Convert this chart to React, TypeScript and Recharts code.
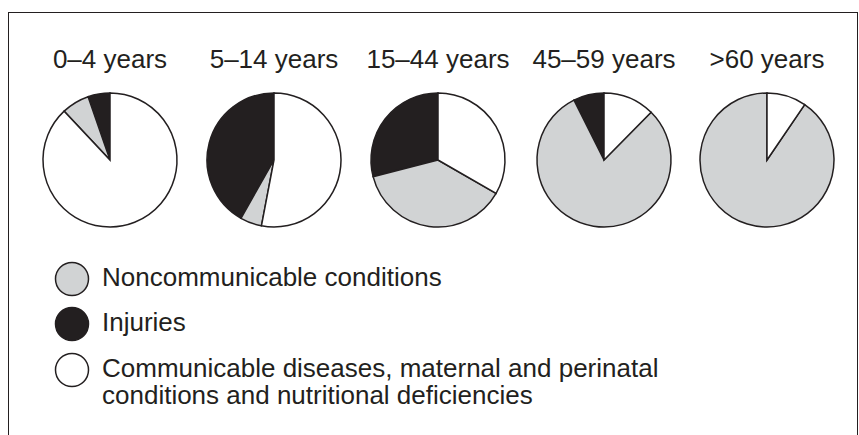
import { Cell, Legend, Pie, PieChart } from "recharts";

const ageGroups = ["0–4 years", "5–14 years", "15–44 years", "45–59 years", ">60 years"];
const categories = [
  "Injuries",
  "Noncommunicable conditions",
  "Communicable diseases, maternal and perinatal conditions and nutritional deficiencies"
];
const injuries = [5.3, 41.8, 29.0, 7.4, 0];
const noncommunicable = [6.7, 5.2, 37.7, 80.2, 90.5];
const communicable = [88.0, 53.0, 33.3, 12.4, 9.5];

const legendOrder = [1, 0, 2];
const legendLines = [
  ["Noncommunicable conditions"],
  ["Injuries"],
  ["Communicable diseases, maternal and perinatal", "conditions and nutritional deficiencies"]
];

const INK = "#231f20";
const colors = [INK, "#d1d3d4", "#ffffff"];
const centersX = [110, 274, 438, 604, 767];
const FONT = '"Liberation Sans", Arial, Helvetica, sans-serif';

function LegendBox() {
  const rowTops = [261.5, 307, 352.5];
  return (
    <div style={{ position: "relative", width: 700, height: 170, fontFamily: FONT, color: INK }}>
      {legendOrder.map((ci, i) => (
        <div key={categories[ci]}>
          <svg
            width={38}
            height={38}
            style={{ position: "absolute", left: 53, top: rowTops[i] - 2 - 248 }}
          >
            <circle cx={19} cy={19} r={16.5} fill={colors[ci]} stroke={INK} strokeWidth={1.5} />
          </svg>
          <div
            style={{
              position: "absolute",
              left: 102,
              top: rowTops[i] + 2 - 248,
              fontSize: 26,
              lineHeight: "27px",
              whiteSpace: "nowrap",
              textAlign: "left"
            }}
          >
            {legendLines[i].map((line) => (
              <div key={line}>{line}</div>
            ))}
          </div>
        </div>
      ))}
    </div>
  );
}

export default function App() {
  return (
    <div
      style={{
        position: "absolute",
        left: 0,
        top: 0,
        width: 859,
        height: 435,
        overflow: "hidden",
        background: "#fff",
        fontFamily: FONT
      }}
    >
      <div
        style={{
          position: "absolute",
          left: 8,
          top: 12,
          width: 848,
          height: 500,
          borderTop: `1.5px solid ${INK}`,
          borderLeft: `1.5px solid ${INK}`,
          borderRight: `1.5px solid ${INK}`
        }}
      />
      {ageGroups.map((g, i) => (
        <div
          key={g}
          style={{
            position: "absolute",
            left: centersX[i] - 90,
            top: 46,
            width: 180,
            textAlign: "center",
            fontSize: 26,
            lineHeight: "26px",
            color: INK,
            whiteSpace: "nowrap"
          }}
        >
          {g}
        </div>
      ))}
      <PieChart
        width={859}
        height={435}
        margin={{ top: 0, right: 0, bottom: 0, left: 0 }}
        style={{ position: "absolute", left: 0, top: 0 }}
      >
        {ageGroups.map((g, i) => {
          const data = [
            { name: categories[0], value: injuries[i] },
            { name: categories[1], value: noncommunicable[i] },
            { name: categories[2], value: communicable[i] }
          ].filter((d) => d.value > 0);
          return (
            <Pie
              key={g}
              data={data}
              dataKey="value"
              nameKey="name"
              cx={centersX[i]}
              cy={160}
              outerRadius={67}
              startAngle={90}
              endAngle={450}
              stroke={INK}
              strokeWidth={1.5}
              isAnimationActive={false}
            >
              {data.map((d) => (
                <Cell key={d.name} fill={colors[categories.indexOf(d.name)]} />
              ))}
            </Pie>
          );
        })}
        <Legend
          content={() => <LegendBox />}
          wrapperStyle={{ position: "absolute", left: 0, top: 248, width: 700, height: 170 }}
        />
      </PieChart>
    </div>
  );
}
